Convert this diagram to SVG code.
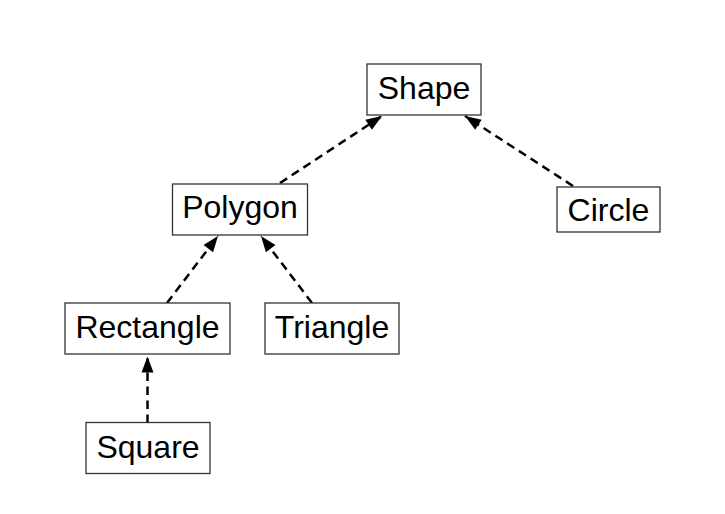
<svg xmlns="http://www.w3.org/2000/svg" width="725" height="514" viewBox="0 0 725 514">
<style>
.box{fill:#fff;stroke:#333;stroke-width:1.3}
.lbl{font-family:"Liberation Sans",Arial,sans-serif;font-size:32px;fill:#000;text-anchor:middle}
.edge{stroke:#000;stroke-width:2.5;stroke-dasharray:8.5,5.5;fill:none}
</style>
<defs>
<marker id="ah" markerUnits="userSpaceOnUse" markerWidth="18" markerHeight="14" refX="16" refY="6" orient="auto" overflow="visible">
<path d="M0,0 L16,6 L0,12 z" fill="#000"/>
</marker>
</defs>
<rect width="725" height="514" fill="#fff"/>
<g id="connectors">
<line class="edge" x1="280" y1="183" x2="382" y2="116" marker-end="url(#ah)"/>
<line class="edge" x1="573" y1="186" x2="465" y2="116" marker-end="url(#ah)"/>
<line class="edge" x1="167" y1="303" x2="218" y2="236" marker-end="url(#ah)"/>
<line class="edge" x1="312" y1="303" x2="261" y2="236" marker-end="url(#ah)"/>
<line class="edge" x1="147.5" y1="423" x2="147.5" y2="356.5" marker-end="url(#ah)"/>
</g>
<g id="shape"><rect class="box" x="367" y="64" width="114" height="51"/><text class="lbl" x="424" y="98.5">Shape</text></g>
<g id="polygon"><rect class="box" x="172.5" y="184" width="135" height="51"/><text class="lbl" x="240" y="217.5">Polygon</text></g>
<g id="circle"><rect class="box" x="557" y="187" width="103" height="45"/><text class="lbl" x="608.5" y="221">Circle</text></g>
<g id="rectangle"><rect class="box" x="65" y="303" width="165" height="51"/><text class="lbl" x="147.5" y="337.5">Rectangle</text></g>
<g id="triangle"><rect class="box" x="265" y="303" width="134" height="51"/><text class="lbl" x="332" y="337.5">Triangle</text></g>
<g id="square"><rect class="box" x="86" y="422.5" width="124" height="51"/><text class="lbl" x="148" y="458">Square</text></g>
</svg>
